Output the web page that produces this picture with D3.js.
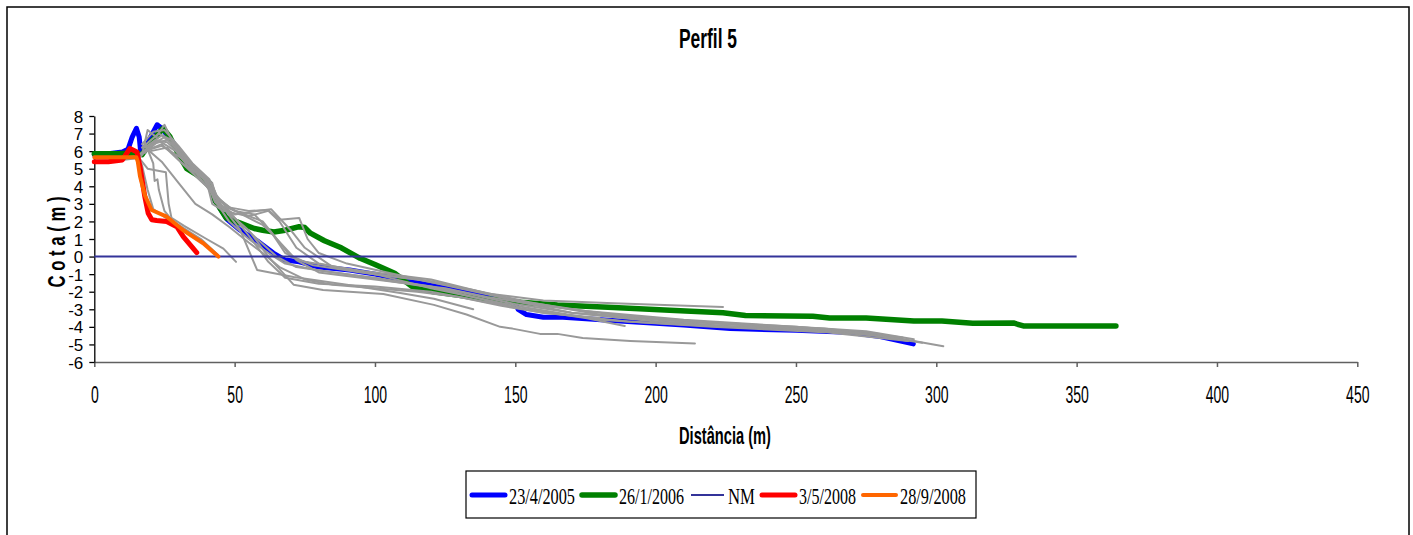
<!DOCTYPE html>
<html>
<head>
<meta charset="utf-8">
<script src="https://cdn.jsdelivr.net/npm/d3@7"></script>
<style>
  html, body { margin: 0; padding: 0; background: #fff; }
  svg { display: block; }
</style>
</head>
<body>
<svg id="chart" width="1413" height="535"></svg>
<script>
// ---------------- DATA ----------------
const chartTitle = "Perfil 5";
const xTitle = "Distância (m)";
const yTitle = "C o t a ( m )";
const xTicks = [0, 50, 100, 150, 200, 250, 300, 350, 400, 450];
const yTicks = [-6, -5, -4, -3, -2, -1, 0, 1, 2, 3, 4, 5, 6, 7, 8];

// named series: [distance (m), elevation (m)]
const s2005 = [[0,5.8],[5,5.85],[10,5.95],[12,6.1],[13.5,6.8],[15,7.3],[16,6.8],[16.5,6.0],[18,6.0],[20,6.8],[22.4,7.5],[24,7.3],[28,6.5],[33,5.2],[37.7,4.5],[41,4.2],[43,3.2],[47.4,2.1],[52,1.5],[58,0.9],[63.8,0.2],[68,-0.2],[73,-0.3],[80,-0.6],[91,-0.76],[100,-1.0],[109,-1.3],[121,-1.6],[132,-2.0],[143.5,-2.35],[150,-2.6],[151,-3.0],[154,-3.3],[160,-3.45],[167,-3.45],[190,-3.7],[210,-3.9],[226.6,-4.1],[250,-4.2],[268,-4.3],[280,-4.55],[291.8,-4.97]];
const s2006 = [[0,5.85],[8,5.85],[14,5.9],[17,5.8],[20,6.5],[24.5,7.3],[27,6.8],[30,5.8],[33,5.0],[38,4.5],[41,4.2],[43,3.2],[47,2.2],[52,1.9],[57,1.6],[60,1.5],[64,1.4],[68,1.5],[73,1.7],[75,1.65],[77,1.33],[82,0.9],[88,0.5],[94.7,-0.1],[100,-0.45],[107,-0.95],[113.6,-1.75],[120.9,-2.0],[130,-2.2],[137,-2.36],[144.6,-2.47],[152,-2.6],[165,-2.75],[185,-2.9],[205,-3.05],[224,-3.2],[232,-3.35],[256,-3.4],[262,-3.5],[275,-3.5],[292,-3.67],[302,-3.67],[313,-3.8],[327.5,-3.78],[331,-3.95],[364,-3.95]];
const sNM = [[0,0],[350,0]];
const s2008a = [[0,5.4],[5,5.4],[10,5.5],[12.7,6.15],[15.2,5.95],[16.3,5.1],[18,3.4],[19.2,2.46],[20.5,2.1],[22.2,2.05],[25.8,2.0],[29.4,1.7],[31.7,1.13],[36.5,0.22]];
const s2008b = [[0,5.65],[10,5.65],[15,5.65],[15.5,5.4],[16.3,4.55],[18,3.5],[20.4,2.65],[25.8,2.27],[31.7,1.5],[38.8,0.76],[44.2,0.0]];

// other surveys (grey, not in legend)
const g01 = [[0,5.45],[10,5.5],[15,5.6],[17,5.2],[19,3.8],[21,2.7],[25,2.25],[30,1.8],[38,1.0],[44,0.1]];
const g02 = [[15,5.8],[19,5.0],[25.5,4.8],[26.5,3.0],[27.5,2.2],[32,1.75],[40,1.0],[46,0.45],[50.5,-0.3]];
const g03 = [[18,6.5],[21,5.3],[21.5,4.3],[22.5,4.4],[23,3.8],[25,2.6],[27,2.2]];
const g04 = [[17,5.8],[19,7.2],[22,6.8],[25,7.5],[28,6.5],[33,5.2],[40,4.3],[42,3.0],[46,2.6],[55,2.3],[62,2.6],[66,2.0],[72,0.5],[80,-0.4],[100,-1.0],[120,-1.8],[150,-2.8],[180,-3.6],[220,-4.0],[260,-4.3],[290,-4.8]];
const g05 = [[16,5.6],[20,6.3],[25,6.8],[30,6.0],[35,5.0],[42,4.2],[44,3.0],[50,2.4],[58,2.6],[63,2.7],[70,1.5],[75,0.5],[85,-0.6],[100,-1.0],[120,-1.4],[140,-2.1],[160,-2.5],[185,-2.65],[224,-2.87]];
const g06 = [[17,5.9],[22,6.6],[26,6.5],[32,5.6],[40,4.4],[43,3.2],[48,2.0],[55,1.0],[62,0.2],[68,-0.4],[80,-0.8],[100,-1.2],[120,-1.7],[150,-2.9],[175,-3.5],[189,-3.95]];
const g07 = [[18,6.2],[24,6.9],[28,6.4],[35,5.0],[45,3.0],[52,1.5],[58,-0.76],[71,-1.16],[90,-1.6],[109,-2.07],[121,-2.4],[135,-3.0]];
const g08 = [[18,6.0],[24,6.4],[30,5.5],[40,4.0],[47,2.6],[55,1.5],[62,0.0],[71,-1.6],[81.5,-1.9],[103,-2.13],[121,-2.75],[132.6,-3.3],[144.6,-4.0],[149,-4.1],[158.8,-4.4],[165,-4.4],[174,-4.64],[191,-4.8],[214,-4.95]];
const g09 = [[17,6.2],[23,7.0],[28,6.6],[34,5.3],[40,4.3],[43,3.1],[50,2.2],[58,1.0],[65,0.0],[72,-0.6],[90,-1.0],[110,-1.5],[130,-2.0],[150,-2.7],[170,-3.2],[200,-3.7],[230,-4.0],[260,-4.2],[285,-4.6],[302.5,-5.1]];
const g10 = [[16,5.8],[21,6.4],[27,6.7],[33,5.6],[40,4.4],[44,3.3],[50,2.6],[57,2.4],[63,1.4],[68,0.2],[75,-0.3],[95,-0.8],[120,-1.3],[140,-2.1],[152,-2.6],[170,-3.2],[200,-3.6],[230,-3.9],[260,-4.1],[288,-4.6]];
const g11 = [[20,6.0],[26,6.2],[32,5.2],[38,4.6],[43,3.5],[48,2.8],[55,2.6],[62,2.65],[66,2.1],[73,2.2],[76,1.0],[80,0.2],[90,-0.4],[110,-1.1],[130,-1.8],[150,-2.5],[175,-3.1],[210,-3.6],[250,-4.0],[280,-4.4]];
const g12 = [[19,6.1],[24,5.4],[30,4.2],[36,3.0],[42,2.4],[48,1.7],[55,0.8],[60,0.2],[66,-0.6],[75,-1.3],[85,-1.6],[100,-1.8],[115,-2.0],[130,-2.3],[145,-2.8],[160,-3.2],[180,-3.5]];
const g13 = [[18,5.9],[23,6.6],[29,6.0],[36,4.6],[44,3.4],[50,2.2],[56,1.0],[62,-0.3],[68,-1.2],[80,-1.55],[100,-1.7],[120,-2.0],[140,-2.6],[160,-3.2],[190,-3.7],[220,-3.95],[250,-4.15],[280,-4.5],[290,-4.8]];
const g14 = [[17,6.4],[21,7.1],[25,7.2],[30,6.3],[35,5.3],[41,4.4],[44,3.3],[48,2.8],[55,2.2],[60,1.8],[64,1.2],[70,0.0],[78,-0.5],[95,-0.9],[115,-1.3],[135,-1.9],[155,-2.6],[180,-3.3],[210,-3.7],[240,-4.0],[270,-4.3],[295,-4.9]];
const g15 = [[18,6.0],[24,6.3],[31,5.6],[38,4.8],[42,4.1],[45,2.9],[52,2.5],[60,2.0],[65,1.0],[72,-0.2],[80,-0.9],[95,-1.2],[110,-1.5],[125,-1.8],[140,-2.3],[160,-2.8],[185,-3.3],[215,-3.7],[250,-4.0],[275,-4.25],[292,-4.7]];
const greyProfiles = [g01, g02, g03, g04, g05, g06, g07, g08, g09, g10, g11, g12, g13, g14, g15];

const legendNames = ["23/4/2005", "26/1/2006", "NM", "3/5/2008", "28/9/2008"];
const legendSeries = [s2005, s2006, sNM, s2008a, s2008b];
const seriesColors = ["#0000ff", "#008000", "#333399", "#ff0000", "#ff6600"];
const seriesWidths = [5, 5.5, 2, 5, 4];
const greyColor = "#999999";

// ---------------- CHART ----------------
const SANS = "'Liberation Sans', Arial, sans-serif";
const SERIF = "'Liberation Serif', 'Times New Roman', serif";
const svg = d3.select("#chart");

function squeeze(sel, w) {
  sel.attr("textLength", w).attr("lengthAdjust", "spacingAndGlyphs");
}

// outer frame
svg.append("rect")
  .attr("x", 7).attr("y", 7).attr("width", 1402).attr("height", 545)
  .attr("fill", "#fff").attr("stroke", "#000").attr("stroke-width", 1.5);

const x = d3.scaleLinear().domain([0, 450]).range([94.3, 1357.3]);
const y = d3.scaleLinear().domain([-6, 8]).range([362, 116]);

// title
svg.append("text")
  .attr("x", 708).attr("y", 48)
  .attr("text-anchor", "middle")
  .style("font-family", SANS)
  .style("font-size", "27px").style("font-weight", "bold")
  .text(chartTitle)
  .call(squeeze, 58);

// x axis
const xAxis = svg.append("g")
  .attr("transform", `translate(0,${y(-6)})`)
  .call(d3.axisBottom(x).tickValues(xTicks).tickSize(5).tickSizeOuter(0).tickPadding(20).tickFormat(d => String(d)));
xAxis.select(".domain").attr("stroke", "#606060").attr("stroke-width", 1.5);
xAxis.selectAll(".tick line").attr("stroke", "#606060").attr("stroke-width", 1.5);
xAxis.selectAll(".tick text")
  .attr("fill", "#000")
  .style("font-size", "23px")
  .style("font-family", SANS)
  .each(function(d) { d3.select(this).call(squeeze, 7.8 * String(d).length); });

// y axis
const yAxis = svg.append("g")
  .attr("transform", `translate(${x(0)},0)`)
  .call(d3.axisLeft(y).tickValues(yTicks).tickSize(5).tickSizeOuter(0).tickPadding(6).tickFormat(d => String(d)));
yAxis.select(".domain").attr("stroke", "#000").attr("stroke-width", 1.3);
yAxis.selectAll(".tick line").attr("stroke", "#000").attr("stroke-width", 1.3);
yAxis.selectAll(".tick text")
  .attr("fill", "#000")
  .style("font-size", "17px")
  .style("font-family", SANS)
  .attr("dy", "0.36em");

// axis titles
svg.append("text")
  .attr("x", 725).attr("y", 444)
  .attr("text-anchor", "middle")
  .style("font-family", SANS)
  .style("font-size", "24px").style("font-weight", "bold")
  .text(xTitle)
  .call(squeeze, 92);

svg.append("text")
  .attr("transform", `translate(65,242) rotate(-90)`)
  .attr("text-anchor", "middle")
  .style("font-family", SANS)
  .style("font-size", "24px").style("font-weight", "bold")
  .text(yTitle)
  .call(squeeze, 91);

// lines
const line = d3.line().x(d => x(d[0])).y(d => y(d[1])).curve(d3.curveLinear);
const plot = svg.append("g").attr("fill", "none").attr("stroke-linejoin", "round").attr("stroke-linecap", "round");

function drawSeries(i) {
  plot.append("path")
    .datum(legendSeries[i])
    .attr("d", line)
    .attr("stroke", seriesColors[i])
    .attr("stroke-width", seriesWidths[i])
    .attr("stroke-linecap", i === 2 ? "butt" : "round");
}

drawSeries(0);
drawSeries(1);
plot.selectAll("path.grey")
  .data(greyProfiles)
  .enter().append("path")
  .attr("class", "grey")
  .attr("d", line)
  .attr("stroke", greyColor)
  .attr("stroke-width", 2);
drawSeries(2);
drawSeries(3);
drawSeries(4);

// legend
const legend = svg.append("g");
legend.append("rect")
  .attr("x", 466).attr("y", 471).attr("width", 510).attr("height", 47)
  .attr("fill", "#fff").attr("stroke", "#000").attr("stroke-width", 1.2);
const legendTextW = [66, 65, 27, 57, 66];
let lx = 472;
legendNames.forEach((name, i) => {
  legend.append("line")
    .attr("x1", lx).attr("x2", lx + 33).attr("y1", 495).attr("y2", 495)
    .attr("stroke", seriesColors[i])
    .attr("stroke-width", seriesWidths[i])
    .attr("stroke-linecap", i === 2 ? "butt" : "round");
  legend.append("text")
    .attr("x", lx + 37).attr("y", 504)
    .style("font-family", SERIF)
    .style("font-size", "23px")
    .text(name)
    .call(squeeze, legendTextW[i]);
  lx += 33 + 4 + legendTextW[i] + 7;
});
</script>
</body>
</html>
